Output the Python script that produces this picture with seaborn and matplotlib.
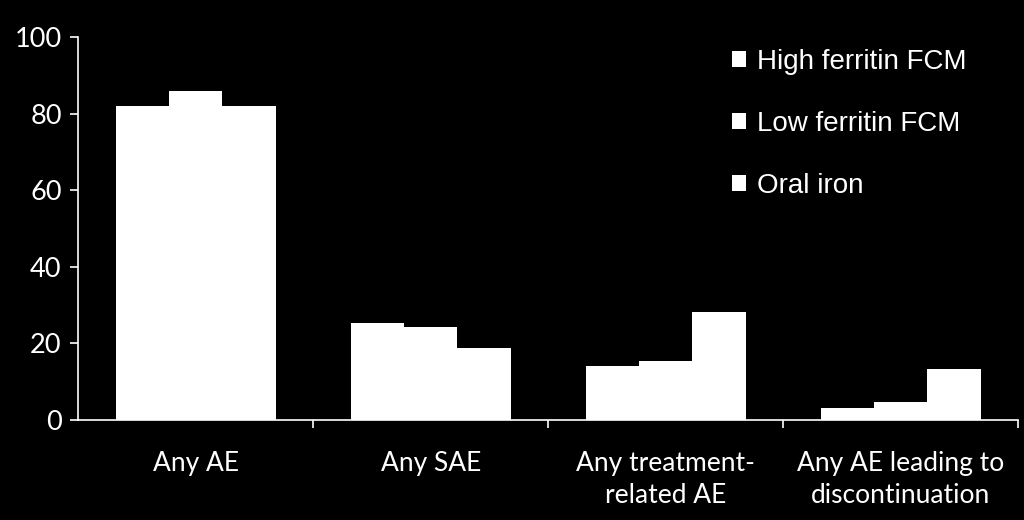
import pandas as pd
import matplotlib
matplotlib.use("Agg")
import matplotlib.pyplot as plt
import seaborn as sns
from matplotlib.patches import Patch

categories = ["Any AE", "Any SAE", "Any treatment-\nrelated AE", "Any AE leading to\ndiscontinuation"]
groups = ["High ferritin FCM", "Low ferritin FCM", "Oral iron"]
high_ferritin = [82.0, 25.3, 14.2, 3.1]
low_ferritin = [86.0, 24.3, 15.4, 4.6]
oral_iron = [82.0, 18.8, 28.3, 13.4]

df = pd.DataFrame({
    "category": categories * 3,
    "group": [groups[0]] * 4 + [groups[1]] * 4 + [groups[2]] * 4,
    "value": high_ferritin + low_ferritin + oral_iron,
})

sns.set_style("dark")
plt.rcParams["font.family"] = ["Lato", "DejaVu Sans"]

fig = plt.figure(figsize=(10.24, 5.2), dpi=100, facecolor="black")
ax = fig.add_axes([0.0765, 0.1923, 0.918, 0.7365])
ax.set_facecolor("black")

sns.barplot(data=df, x="category", y="value", hue="group", order=categories,
            hue_order=groups, palette=["white"] * 3, width=0.68, saturation=1,
            edgecolor="none", linewidth=0, legend=False, ax=ax)

ax.set_xlim(-0.5, 3.5)
ax.set_ylim(0, 100)
ax.set_yticks([0, 20, 40, 60, 80, 100])
ax.set_xlabel("")
ax.set_ylabel("")
ax.grid(False)

for s in ["top", "right"]:
    ax.spines[s].set_visible(False)
for s in ["left", "bottom"]:
    ax.spines[s].set_color("white")
    ax.spines[s].set_linewidth(1.2)

ax.tick_params(axis="y", colors="white", labelsize=19.5, length=6, width=1.2,
               direction="out", left=True, pad=6)
ax.tick_params(axis="x", which="major", colors="white", labelsize=19,
               length=0, pad=22)
ax.set_xticks([0.5, 1.5, 2.5, 3.5], minor=True)
ax.tick_params(axis="x", which="minor", color="white", length=6, width=1.2,
               direction="out", bottom=True)
for lab in ax.get_xticklabels():
    lab.set_linespacing(1.35)

handles = [Patch(facecolor="white", edgecolor="none") for _ in groups]
leg = ax.legend(handles, groups, loc="upper left", bbox_to_anchor=(0.669, 1.035),
                frameon=False, handlelength=0.5, handleheight=0.5,
                handletextpad=0.4, labelspacing=1.3,
                prop={"family": "Liberation Sans", "size": 20})
for t in leg.get_texts():
    t.set_color("white")

fig.savefig("out.png", dpi=100, facecolor="black")
